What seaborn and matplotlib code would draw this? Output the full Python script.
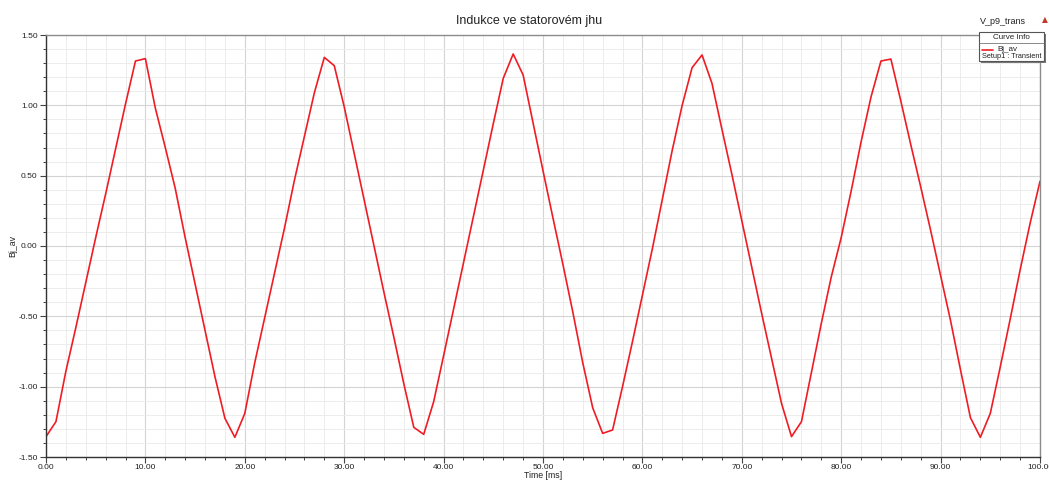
import matplotlib
matplotlib.use("Agg")
import matplotlib.pyplot as plt
from matplotlib.ticker import MultipleLocator, FormatStrFormatter
from matplotlib.patches import Rectangle
from matplotlib.lines import Line2D
import seaborn as sns
import pandas as pd

# Average flux density in the stator yoke, sampled every 1 ms
time_ms = list(range(0, 101))
bj_av = [
    -1.355, -1.249, -0.89, -0.58, -0.26, 0.06, 0.37, 0.69, 1.01, 1.315,
    1.332, 0.98, 0.70, 0.41, 0.06, -0.27, -0.60, -0.93, -1.225, -1.36,
    -1.19, -0.83, -0.51, -0.19, 0.13, 0.47, 0.78, 1.09, 1.341, 1.282,
    0.99, 0.66, 0.33, 0.00, -0.33, -0.65, -0.98, -1.289, -1.339, -1.107,
    -0.78, -0.45, -0.12, 0.21, 0.54, 0.87, 1.192, 1.365, 1.216, 0.875,
    0.535, 0.20, -0.13, -0.47, -0.83, -1.15, -1.332, -1.308, -1.00, -0.68,
    -0.35, -0.02, 0.33, 0.68, 1.00, 1.268, 1.358, 1.156, 0.83, 0.51,
    0.18, -0.15, -0.48, -0.80, -1.12, -1.355, -1.249, -0.90, -0.55, -0.22,
    0.06, 0.39, 0.74, 1.06, 1.315, 1.329, 1.03, 0.72, 0.42, 0.11,
    -0.21, -0.53, -0.88, -1.22, -1.36, -1.19, -0.86, -0.52, -0.17, 0.16,
    0.46,
]

title_text = "Indukce ve statorovém jhu"
x_label = "Time [ms]"
y_label = "Bj_av"
plot_name = "V_p9_trans"
legend_title = "Curve Info"
legend_curve = "Bj_av"
legend_setup = "Setup1 : Transient"

df = pd.DataFrame({"Time": time_ms, "Bj_av": bj_av})

sns.set_theme(style="white")
plt.rcParams["font.family"] = ["Liberation Sans", "DejaVu Sans"]

fig = plt.figure(figsize=(10.49, 4.8), dpi=100)
ax = fig.add_axes([46 / 1049, 1 - 457 / 480, (1040 - 46) / 1049, (457 - 35) / 480])

sns.lineplot(data=df, x="Time", y="Bj_av", ax=ax, color="#f01c24",
             linewidth=1.2, legend=False)

ax.set_xlim(0, 100)
ax.set_ylim(-1.5, 1.5)
ax.xaxis.set_major_locator(MultipleLocator(10))
ax.xaxis.set_minor_locator(MultipleLocator(2))
ax.yaxis.set_major_locator(MultipleLocator(0.5))
ax.yaxis.set_minor_locator(MultipleLocator(0.1))
ax.xaxis.set_major_formatter(FormatStrFormatter("%.2f"))
ax.yaxis.set_major_formatter(FormatStrFormatter("%.2f"))

ax.grid(which="major", color="#d4d4d4", linewidth=0.8)
ax.grid(which="minor", color="#ececec", linewidth=0.7)
ax.set_axisbelow(True)

ax.tick_params(which="major", direction="out", length=4.5, width=0.8,
               color="#444444", labelsize=6.0, labelcolor="#222222", pad=1.5,
               bottom=True, left=True)
ax.tick_params(axis="x", which="major", pad=0.5)
ax.tick_params(which="minor", direction="out", length=2.5, width=0.7,
               color="#444444", bottom=True, left=True)

for side in ("left", "bottom"):
    ax.spines[side].set_color("#333333")
    ax.spines[side].set_linewidth(1.0)
for side in ("top", "right"):
    ax.spines[side].set_color("#8c8c8c")
    ax.spines[side].set_linewidth(1.0)

ax.set_xlabel(x_label, fontsize=6.3, color="#222222", va="center")
ax.set_ylabel(y_label, fontsize=6.3, color="#222222", va="center")
ax.xaxis.set_label_coords(0.5, (457 - 475.5) / 422)
ax.yaxis.set_label_coords((13 - 46) / 994, 0.5)

fig.text(529 / 1049, 1 - 21 / 480, title_text, ha="center", va="center",
         fontsize=9, color="#222222")
fig.text(1003 / 1049, 1 - 21 / 480, plot_name, ha="center", va="center",
         fontsize=6.5, color="#222222")
fig.text(1045 / 1049, 1 - 20 / 480, "\u25B2", ha="center", va="center",
         fontsize=5.5, color="#c0392b", family=["DejaVu Sans"])

# Curve info box
bx0, bx1, by0, by1 = 979, 1044, 32, 61
def fx(px):
    return px / 1049
def fy(py):
    return 1 - py / 480

shadow = Rectangle((fx(bx0 + 1.5), fy(by1 + 1.5)), fx(bx1 - bx0), fy(by0) - fy(by1),
                   transform=fig.transFigure, facecolor="#7a7a7a",
                   edgecolor="none", zorder=5)
box = Rectangle((fx(bx0), fy(by1)), fx(bx1 - bx0), fy(by0) - fy(by1),
                transform=fig.transFigure, facecolor="white",
                edgecolor="#555555", linewidth=0.8, zorder=6)
fig.patches.extend([shadow, box])
fig.lines.append(Line2D([fx(bx0), fx(bx1)], [fy(43), fy(43)],
                        transform=fig.transFigure, color="#777777",
                        linewidth=0.6, zorder=7))
fig.text(fx(1011), fy(37.5), legend_title, ha="center", va="center",
         fontsize=5.8, color="#222222", zorder=8)
fig.lines.append(Line2D([fx(982), fx(993)], [fy(49.5), fy(49.5)],
                        transform=fig.transFigure, color="#f01c24",
                        linewidth=1.2, zorder=8))
fig.text(fx(1007), fy(49.5), legend_curve, ha="center", va="center",
         fontsize=5.8, color="#222222", zorder=8)
fig.text(fx(1011.5), fy(56.5), legend_setup, ha="center", va="center",
         fontsize=5.3, color="#222222", zorder=8)

fig.savefig("out.png", dpi=100, facecolor="white")
